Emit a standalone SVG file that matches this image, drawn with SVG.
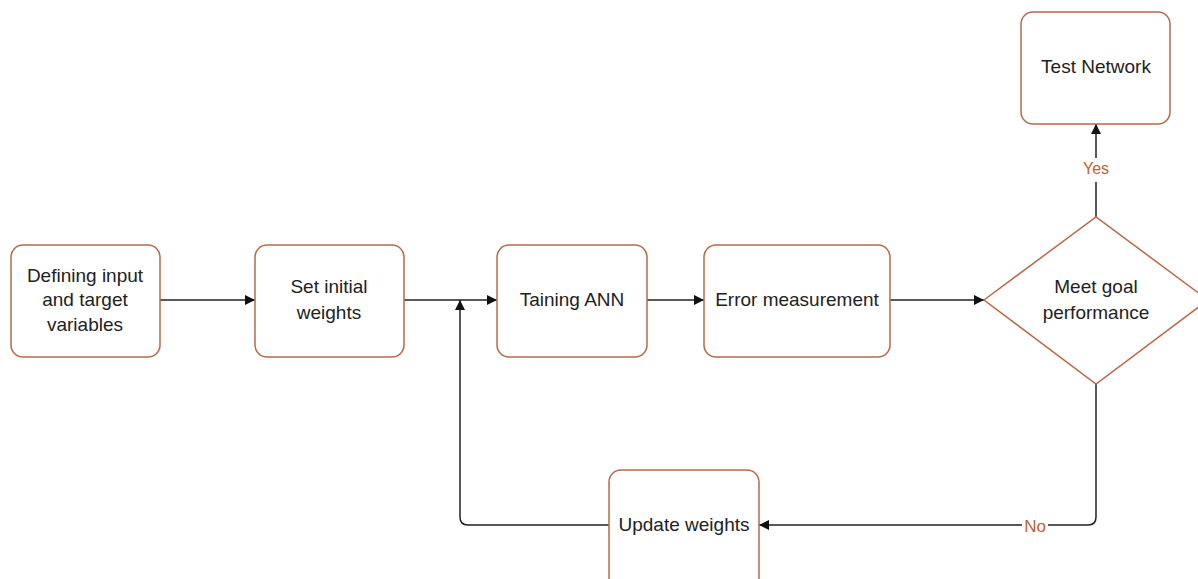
<svg xmlns="http://www.w3.org/2000/svg" width="1198" height="579" viewBox="0 0 1198 579">
<defs>
<marker id="arr" viewBox="0 0 10 10" refX="10" refY="5" markerWidth="10" markerHeight="10" markerUnits="userSpaceOnUse" orient="auto">
<path d="M0,0 L10,5 L0,10 z" fill="#111"/>
</marker>
<style>
.box{fill:#fff;stroke:#B8694A;stroke-width:1.5}
.t{font-family:"Liberation Sans",Arial,sans-serif;font-size:19px;fill:#222;text-anchor:middle}
.lbl{font-family:"Liberation Sans",Arial,sans-serif;font-size:16px;fill:#C0622F;text-anchor:middle}
.c{fill:none;stroke:#222;stroke-width:1.5}
</style>
</defs>
<rect width="1198" height="579" fill="#fff"/>
<g id="connectors">
<line class="c" x1="160" y1="300" x2="255" y2="300" marker-end="url(#arr)"/>
<line class="c" x1="404" y1="300" x2="497" y2="300" marker-end="url(#arr)"/>
<line class="c" x1="647" y1="300" x2="704" y2="300" marker-end="url(#arr)"/>
<line class="c" x1="890" y1="300" x2="984" y2="300" marker-end="url(#arr)"/>
<line class="c" x1="1096" y1="217" x2="1096" y2="182"/>
<line class="c" x1="1096" y1="158" x2="1096" y2="124" marker-end="url(#arr)"/>
<path class="c" d="M1096,384 V517 Q1096,525 1088,525 H1048"/>
<path class="c" d="M1022,525 H759" marker-end="url(#arr)"/>
<path class="c" d="M609,525 H468 Q460,525 460,517 V300" marker-end="url(#arr)"/>
<text class="lbl" x="1096" y="174">Yes</text>
<text class="lbl" x="1035" y="532" style="font-size:17px">No</text>
</g>
<g id="n1"><rect class="box" x="11" y="245" width="149" height="112" rx="12"/>
<text class="t" x="85" y="282">Defining input</text><text class="t" x="85" y="306">and target</text><text class="t" x="85" y="331">variables</text></g>
<g id="n2"><rect class="box" x="255" y="245" width="149" height="112" rx="12"/>
<text class="t" x="329" y="293">Set initial</text><text class="t" x="329" y="319">weights</text></g>
<g id="n3"><rect class="box" x="497" y="245" width="150" height="112" rx="12"/>
<text class="t" x="572" y="306">Taining ANN</text></g>
<g id="n4"><rect class="box" x="704" y="245" width="186" height="112" rx="12"/>
<text class="t" x="797" y="306">Error measurement</text></g>
<g id="n5"><path class="box" d="M984,300 L1096,217 L1208,300 L1096,384 Z"/>
<text class="t" x="1096" y="293">Meet goal</text><text class="t" x="1096" y="319">performance</text></g>
<g id="n6"><rect class="box" x="1021" y="12" width="149" height="112" rx="12"/>
<text class="t" x="1096" y="73">Test Network</text></g>
<g id="n7"><rect class="box" x="609" y="470" width="150" height="125" rx="12"/>
<text class="t" x="684" y="531">Update weights</text></g>
</svg>
